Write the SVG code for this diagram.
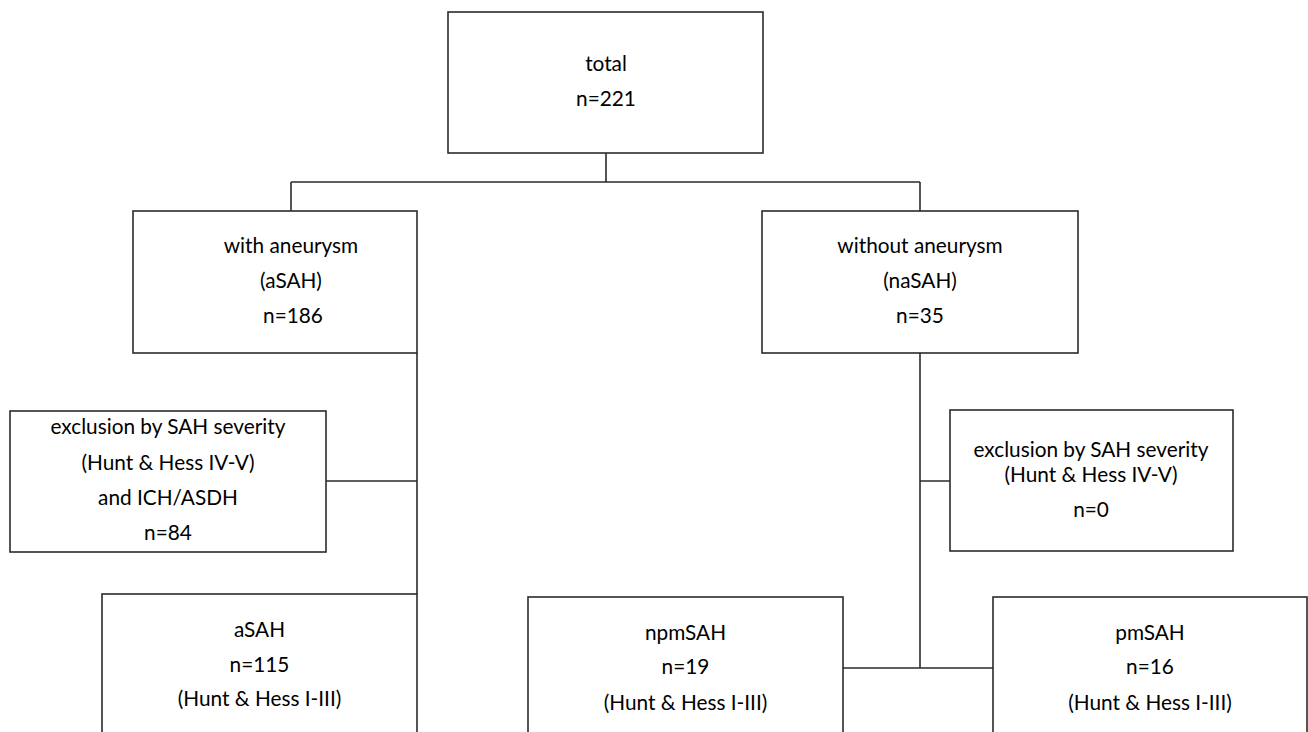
<svg xmlns="http://www.w3.org/2000/svg" width="1308" height="732" viewBox="0 0 1308 732">
<style>
.box{fill:#fff;stroke:#2b2b2b;stroke-width:1.6}
.ln{fill:none;stroke:#2b2b2b;stroke-width:1.6}
text{font-family:Lato,"Open Sans","Liberation Sans",sans-serif;font-size:20.8px;fill:#000;text-anchor:middle}
</style>
<rect width="1308" height="732" fill="#fff"/>
<g id="connectors">
<path class="ln" d="M606 153V182M291 182H920M291 182V211M920 182V211"/>
<path class="ln" d="M417 353V594M326 481H417"/>
<path class="ln" d="M920 353V668M920 481H950M843 668H993"/>
</g>
<g id="total">
<rect class="box" x="448" y="12" width="315" height="141"/>
<text x="606" y="71">total</text>
<text x="606" y="106">n=221</text>
</g>
<g id="with-aneurysm">
<rect class="box" x="133" y="211" width="284" height="142"/>
<text x="291" y="253">with aneurysm</text>
<text x="291" y="288">(aSAH)</text>
<text x="293" y="323">n=186</text>
</g>
<g id="without-aneurysm">
<rect class="box" x="762" y="211" width="316" height="142"/>
<text x="920" y="253">without aneurysm</text>
<text x="920" y="288">(naSAH)</text>
<text x="920" y="323">n=35</text>
</g>
<g id="exclusion-left">
<rect class="box" x="10" y="411" width="316" height="141"/>
<text x="168" y="434">exclusion by SAH severity</text>
<text x="168" y="470">(Hunt &amp; Hess IV-V)</text>
<text x="168" y="505">and ICH/ASDH</text>
<text x="168" y="540">n=84</text>
</g>
<g id="exclusion-right">
<rect class="box" x="950" y="410" width="283" height="141"/>
<text x="1091" y="457">exclusion by SAH severity</text>
<text x="1091" y="482">(Hunt &amp; Hess IV-V)</text>
<text x="1091" y="517">n=0</text>
</g>
<g id="aSAH">
<rect class="box" x="102" y="594" width="315" height="160"/>
<text x="259.5" y="637">aSAH</text>
<text x="259.5" y="672">n=115</text>
<text x="259.5" y="706">(Hunt &amp; Hess I-III)</text>
</g>
<g id="npmSAH">
<rect class="box" x="528" y="597" width="315" height="160"/>
<text x="685.5" y="640">npmSAH</text>
<text x="685.5" y="674">n=19</text>
<text x="685.5" y="710">(Hunt &amp; Hess I-III)</text>
</g>
<g id="pmSAH">
<rect class="box" x="993" y="597" width="314" height="160"/>
<text x="1150" y="640">pmSAH</text>
<text x="1150" y="674">n=16</text>
<text x="1150" y="710">(Hunt &amp; Hess I-III)</text>
</g>
</svg>
